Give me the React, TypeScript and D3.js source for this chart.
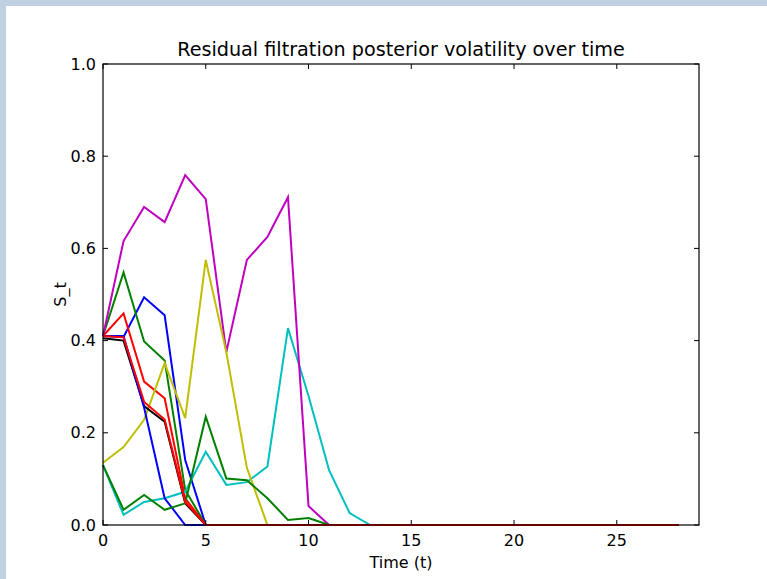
import React from "react";
import * as d3 from "d3";

const W = 767;
const H = 579;

const timeSteps = [0, 1, 2, 3, 4, 5, 6, 7, 8, 9, 10, 11, 12, 13, 14, 15, 16, 17, 18, 19, 20, 21, 22, 23, 24, 25, 26, 27, 28];

const blue1 = [0.41, 0.408, 0.494, 0.455, 0.141, 0, 0, 0, 0, 0, 0, 0, 0, 0, 0, 0, 0, 0, 0, 0, 0, 0, 0, 0, 0, 0, 0, 0, 0];
const green1 = [0.41, 0.548, 0.398, 0.357, 0.076, 0, 0, 0, 0, 0, 0, 0, 0, 0, 0, 0, 0, 0, 0, 0, 0, 0, 0, 0, 0, 0, 0, 0, 0];
const red1 = [0.41, 0.459, 0.311, 0.275, 0.058, 0, 0, 0, 0, 0, 0, 0, 0, 0, 0, 0, 0, 0, 0, 0, 0, 0, 0, 0, 0, 0, 0, 0, 0];
const cyan1 = [0.13, 0.022, 0.05, 0.058, 0.072, 0.159, 0.087, 0.093, 0.127, 0.427, 0.28, 0.119, 0.026, 0, 0, 0, 0, 0, 0, 0, 0, 0, 0, 0, 0, 0, 0, 0, 0];
const magenta1 = [0.41, 0.616, 0.69, 0.657, 0.759, 0.707, 0.375, 0.575, 0.625, 0.711, 0.041, 0, 0, 0, 0, 0, 0, 0, 0, 0, 0, 0, 0, 0, 0, 0, 0, 0, 0];
const yellow1 = [0.135, 0.169, 0.228, 0.351, 0.232, 0.575, 0.375, 0.124, 0, 0, 0, 0, 0, 0, 0, 0, 0, 0, 0, 0, 0, 0, 0, 0, 0, 0, 0, 0, 0];
const black1 = [0.405, 0.4, 0.258, 0.224, 0.047, 0, 0, 0, 0, 0, 0, 0, 0, 0, 0, 0, 0, 0, 0, 0, 0, 0, 0, 0, 0, 0, 0, 0, 0];
const blue2 = [0.41, 0.41, 0.255, 0.058, 0, 0, 0, 0, 0, 0, 0, 0, 0, 0, 0, 0, 0, 0, 0, 0, 0, 0, 0, 0, 0, 0, 0, 0, 0];
const green2 = [0.13, 0.033, 0.065, 0.033, 0.047, 0.235, 0.101, 0.097, 0.058, 0.011, 0.015, 0, 0, 0, 0, 0, 0, 0, 0, 0, 0, 0, 0, 0, 0, 0, 0, 0, 0];
const red2 = [0.41, 0.407, 0.267, 0.229, 0.05, 0, 0, 0, 0, 0, 0, 0, 0, 0, 0, 0, 0, 0, 0, 0, 0, 0, 0, 0, 0, 0, 0, 0, 0];

const seriesList = [blue1, green1, red1, cyan1, magenta1, yellow1, black1, blue2, green2, red2];
const seriesColors = ["#0000ff", "#008000", "#ff0000", "#00bfbf", "#bf00bf", "#bfbf00", "#000000", "#0000ff", "#008000", "#ff0000"];

const xTicks = [0, 5, 10, 15, 20, 25];
const yTicks = [0, 0.2, 0.4, 0.6, 0.8, 1.0];

const title = "Residual filtration posterior volatility over time";
const xLabel = "Time (t)";
const yLabel = "S_t";

export default function App() {
  const left = 103, right = 699, top = 64, bottom = 525;
  const x = d3.scaleLinear().domain([0, 29]).range([left, right]);
  const y = d3.scaleLinear().domain([0, 1]).range([bottom, top]);
  const line = d3
    .line<number>()
    .x((_, i) => x(timeSteps[i]))
    .y((d) => y(d));
  const font = "'DejaVu Sans', sans-serif";
  const tl = 5;
  const fs = 16;
  return (
    <svg
      width={W}
      height={H}
      style={{ position: "absolute", left: 0, top: 0, background: "#fff" }}
      fontFamily={font}
    >
      <rect x={0} y={0} width={W} height={H} fill="#ffffff" />
      <rect x={0} y={0} width={W} height={6} fill="#c0d0e2" />
      <rect x={0} y={0} width={6} height={H} fill="#c0d0e2" />
      <text x={(left + right) / 2} y={56} textAnchor="middle" fontSize={19.2} fill="#000">
        {title}
      </text>
      <g>
        {seriesList.map((s, i) => (
          <path
            key={i}
            d={line(s) || ""}
            fill="none"
            stroke={seriesColors[i]}
            strokeWidth={2}
            strokeLinejoin="miter"
          />
        ))}
      </g>
      <rect x={left} y={top} width={right - left} height={bottom - top} fill="none" stroke="#000" strokeWidth={1.2} />
      {xTicks.map((t) => (
        <g key={"x" + t}>
          <line x1={x(t)} x2={x(t)} y1={bottom} y2={bottom - tl} stroke="#000" strokeWidth={1} />
          <line x1={x(t)} x2={x(t)} y1={top} y2={top + tl} stroke="#000" strokeWidth={1} />
          <text x={x(t)} y={bottom + 21} textAnchor="middle" fontSize={fs} fill="#000">
            {d3.format("d")(t)}
          </text>
        </g>
      ))}
      {yTicks.map((t) => (
        <g key={"y" + t}>
          <line x1={left} x2={left + tl} y1={y(t)} y2={y(t)} stroke="#000" strokeWidth={1} />
          <line x1={right} x2={right - tl} y1={y(t)} y2={y(t)} stroke="#000" strokeWidth={1} />
          <text x={left - 7} y={y(t)} dy="0.35em" textAnchor="end" fontSize={fs} fill="#000">
            {d3.format(".1f")(t)}
          </text>
        </g>
      ))}
      <text x={(left + right) / 2} y={568} textAnchor="middle" fontSize={fs} fill="#000">
        {xLabel}
      </text>
      <text
        transform={`translate(66, ${(top + bottom) / 2}) rotate(-90)`}
        textAnchor="middle"
        fontSize={fs}
        fill="#000"
      >
        {yLabel}
      </text>
    </svg>
  );
}
